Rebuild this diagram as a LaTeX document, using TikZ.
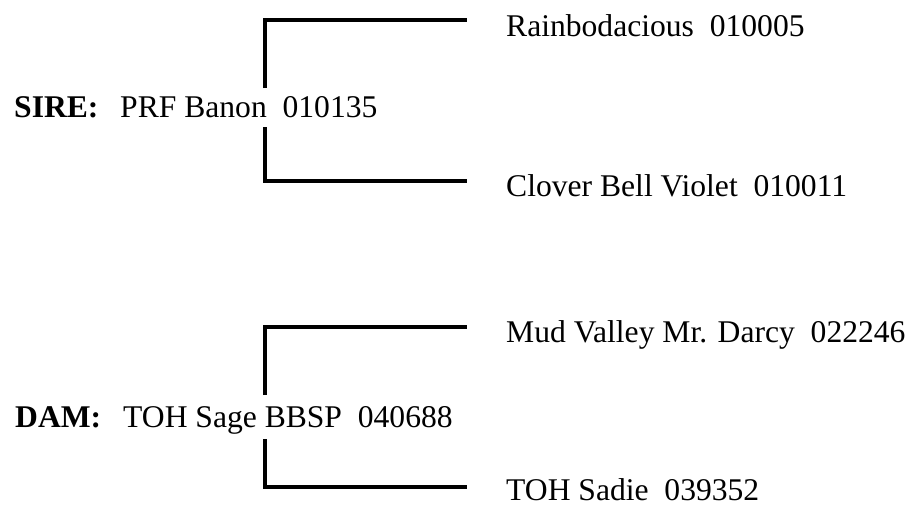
\documentclass[tikz,border=0pt]{standalone}
\usepackage{fontspec}
\setmainfont{Liberation Serif}

\begin{document}
\begin{tikzpicture}[x=1pt,y=-1pt,
        horse/.style={anchor=base west,inner sep=0pt,font=\fontsize{31.6}{38}\selectfont},
        tag/.style={horse,font=\fontsize{31.6}{38}\selectfont\bfseries},
        link/.style={line width=4pt}]
        \useasboundingbox (0,0) rectangle (914,504);
        % sire and its parents
        \node[tag]   (siretag) at (14,117)    {SIRE:};
        \node[horse] (sire)    at (120,117)   {PRF Banon\ \ 010135};
        \node[horse] (siresire) at (506,36)   {Rainbodacious\ \ 010005};
        \node[horse] (siredam)  at (506,196.7) {Clover Bell Violet\ \ 010011};
        % dam and its parents
        \node[tag]   (damtag)  at (15,427)    {DAM:};
        \node[horse] (dam)     at (123,427)   {TOH Sage BBSP\ \ 040688};
        \node[horse] (damsire) at (506,342.7) {Mud Valley Mr. Darcy\ \ 022246};
        \node[horse] (damdam)  at (506,500)   {TOH Sadie\ \ 039352};
        % brackets
        \coordinate (sireup) at (265,88);
        \coordinate (siredn) at (265,127);
        \coordinate (damup)  at (265,395);
        \coordinate (damdn)  at (265,439);
        \draw[link] (sireup) |- ([shift={(-39,-16)}]siresire.base west);
        \draw[link] (siredn) |- ([shift={(-39,-16)}]siredam.base west);
        \draw[link] (damup)  |- ([shift={(-39,-16)}]damsire.base west);
        \draw[link] (damdn)  |- ([shift={(-39,-12.7)}]damdam.base west);
    \end{tikzpicture}
\end{document}
